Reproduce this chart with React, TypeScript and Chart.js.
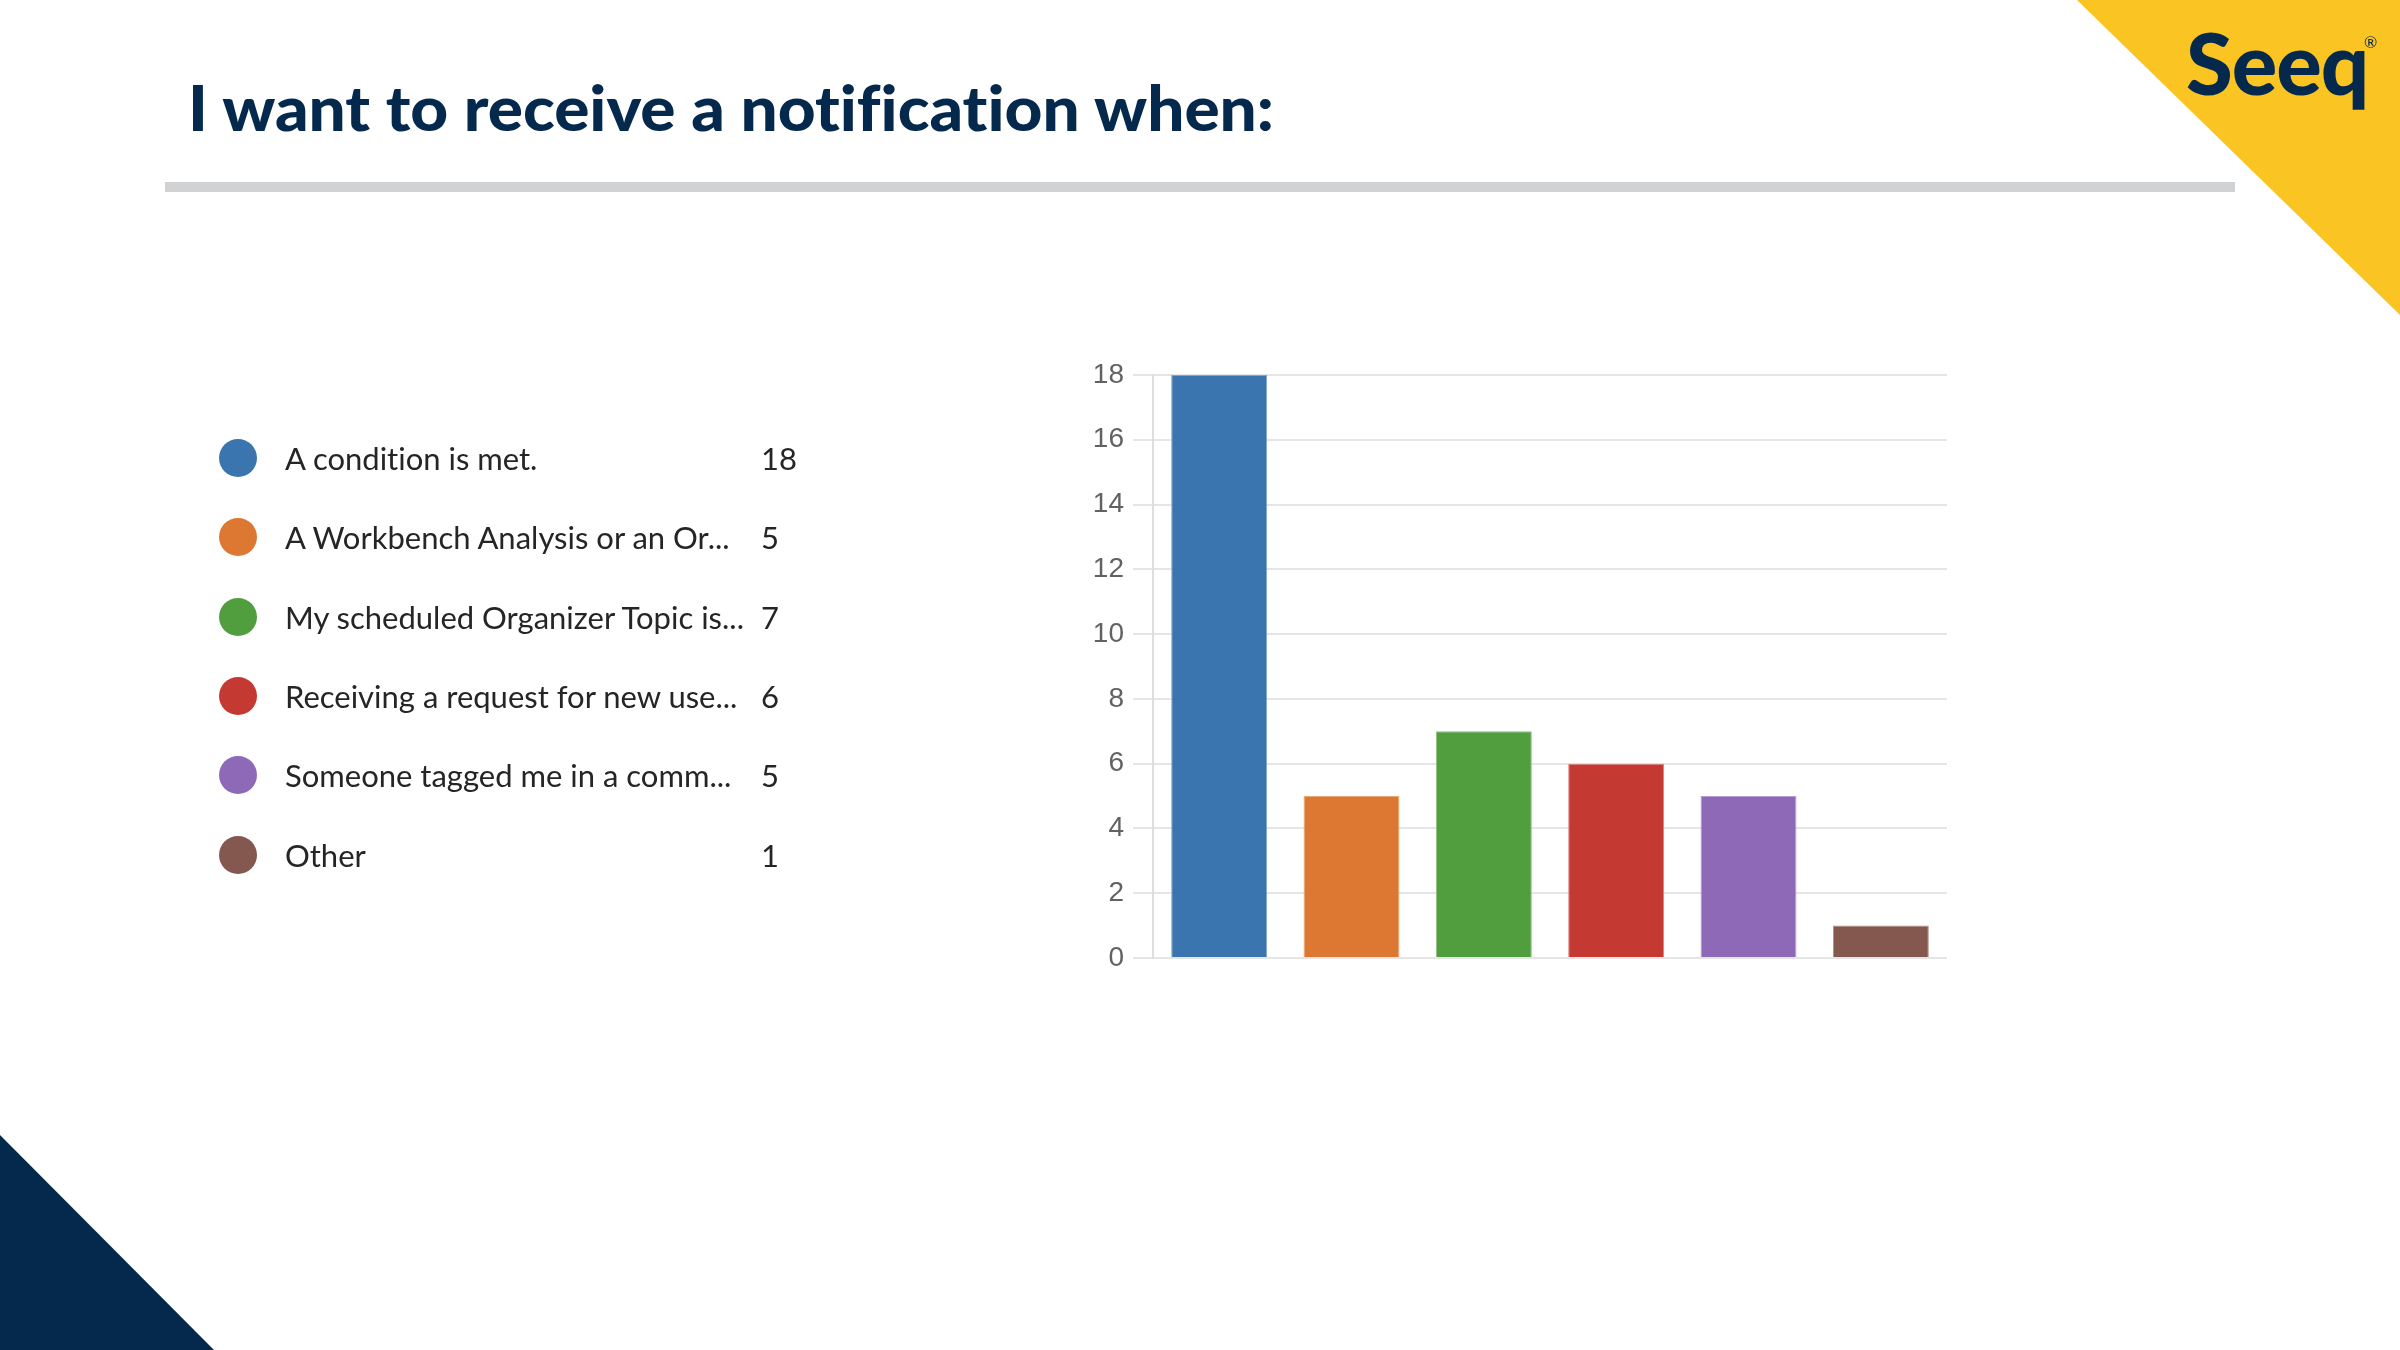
import React, { useEffect, useLayoutEffect, useRef } from "react";
import { Chart, registerables } from "chart.js";

Chart.register(...registerables);

const TITLE = "I want to receive a notification when:";
const categories = [
  "A condition is met.",
  "A Workbench Analysis or an Or...",
  "My scheduled Organizer Topic is...",
  "Receiving a request for new use...",
  "Someone tagged me in a comm...",
  "Other",
];
const counts = [18, 5, 7, 6, 5, 1];
const barColors = ["#3a75af", "#dc7831", "#519e3e", "#c43a33", "#8d69b8", "#84584e"];
const barEdgeColors = ["#7fa6cc", "#eaa879", "#8cc27e", "#db7f79", "#b59dd2", "#b08e86"];
const Y_MIN = 0;
const Y_MAX = 18;
const Y_STEP = 2;

const NAVY = "#04294d";
const YELLOW = "#fac423";

export default function App() {
  const canvasRef = useRef<HTMLCanvasElement | null>(null);
  const titleRef = useRef<HTMLSpanElement | null>(null);

  useLayoutEffect(() => {
    const el = titleRef.current;
    if (el) {
      el.style.transform = "none";
      const w = el.getBoundingClientRect().width;
      if (w > 0) el.style.transform = `scaleX(${1086 / w})`;
    }
  }, []);

  useEffect(() => {
    if (!canvasRef.current) return;
    const chart = new Chart(canvasRef.current, {
      type: "bar",
      data: {
        labels: categories,
        datasets: [
          {
            data: counts,
            backgroundColor: barColors,
            borderColor: barEdgeColors,
            borderWidth: 1,
            barPercentage: 0.725,
            categoryPercentage: 1,
          },
        ],
      },
      options: {
        responsive: false,
        animation: false,
        devicePixelRatio: 1,
        layout: { padding: { left: 1073, right: 453, top: 375, bottom: 392 } },
        plugins: { legend: { display: false }, tooltip: { enabled: false }, title: { display: false } },
        scales: {
          x: { display: false },
          y: {
            min: Y_MIN,
            max: Y_MAX,
            afterFit: (scale: any) => {
              scale.width = 80;
            },
            ticks: {
              stepSize: Y_STEP,
              padding: 9,
              color: "#626262",
              font: { family: "'Liberation Sans', Arial, sans-serif", size: 28 },
            },
            grid: { color: "#e5e5e5", lineWidth: 2, tickLength: 20, drawTicks: true },
            border: { display: true, color: "#dedede", width: 2 },
          },
        },
      },
    });
    return () => chart.destroy();
  }, []);

  const rowStart = 458;
  const rowGap = 79.3;
  const textStyle: React.CSSProperties = {
    position: "absolute",
    height: 38,
    lineHeight: "38px",
    fontSize: 31,
    color: "#252525",
    whiteSpace: "nowrap",
    fontFamily: "Lato, sans-serif",
    fontVariantLigatures: "none",
  };

  return (
    <div
      style={{
        position: "absolute",
        left: 0,
        top: 0,
        width: 2400,
        height: 1350,
        overflow: "hidden",
        background: "#ffffff",
        fontFamily: "Lato, 'Open Sans', sans-serif",
      }}
    >
      <div
        style={{
          position: "absolute",
          left: 0,
          top: 0,
          width: 2400,
          height: 1350,
          background: YELLOW,
          clipPath: "polygon(2077px 0px, 2400px 0px, 2400px 315px)",
        }}
      />
      <div
        style={{
          position: "absolute",
          left: 0,
          top: 0,
          width: 2400,
          height: 1350,
          background: NAVY,
          clipPath: "polygon(0px 1135px, 214px 1350px, 0px 1350px)",
        }}
      />
      <div style={{ position: "absolute", left: 165, top: 182, width: 2070, height: 10, background: "#d1d2d4" }} />

      <canvas
        ref={canvasRef}
        width={2400}
        height={1350}
        style={{ position: "absolute", left: 0, top: 0, width: 2400, height: 1350 }}
      />

      <div style={{ position: "absolute", left: 188, top: 75, whiteSpace: "nowrap" }}>
        <span
          ref={titleRef}
          style={{
            display: "inline-block",
            transformOrigin: "0 0",
            fontSize: 63,
            lineHeight: "63px",
            fontWeight: 900,
            color: NAVY,
            fontFamily: "Lato, sans-serif",
            fontVariantLigatures: "none",
          }}
        >
          {TITLE}
        </span>
      </div>

      <div
        style={{
          position: "absolute",
          left: 2186,
          top: 20,
          fontSize: 85,
          lineHeight: "85px",
          fontWeight: 900,
          color: NAVY,
          fontFamily: "Lato, sans-serif",
          letterSpacing: -1,
          whiteSpace: "nowrap",
        }}
      >
        Seeq
      </div>
      <div
        style={{
          position: "absolute",
          left: 2364,
          top: 34,
          fontSize: 16,
          lineHeight: "16px",
          color: NAVY,
          fontFamily: "Lato, sans-serif",
        }}
      >
        ®
      </div>

      {categories.map((c, i) => {
        const cy = rowStart + i * rowGap;
        return (
          <React.Fragment key={c}>
            <div
              style={{
                position: "absolute",
                left: 219,
                top: cy - 19,
                width: 38,
                height: 38,
                borderRadius: "50%",
                background: barColors[i],
              }}
            />
            <div style={{ ...textStyle, left: 285, top: cy - 19 }}>{c}</div>
            <div style={{ ...textStyle, left: 761, top: cy - 19 }}>{counts[i]}</div>
          </React.Fragment>
        );
      })}
    </div>
  );
}
